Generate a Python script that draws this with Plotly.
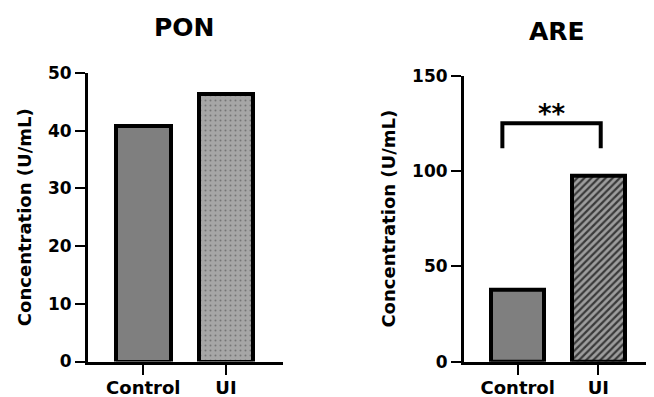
import plotly.graph_objects as go

categories = ["Control", "UI"]
pon_values = [40.8, 46.4]
are_values = [38.0, 97.5]
pon_ticks = [0, 10, 20, 30, 40, 50]
are_ticks = [0, 50, 100, 150]
titles = ["PON", "ARE"]
y_title = "Concentration (U/mL)"
sig_label = "**"
bracket_x = [-0.19, 1.03]
bracket_y = [112, 125]
star_y = 130

FONT = "DejaVu Sans"
# page body has an 8px margin; figure fills the rest of the 654x397 window
W, H, OFF = 646, 389, 8


def xf(px):
    return (px - OFF) / W


def yf(py):
    return 1 - (py - OFF) / H


fig = go.Figure()

fig.add_trace(go.Bar(
    x=categories, y=pon_values, width=0.66, xaxis="x", yaxis="y",
    marker=dict(color=["#7f7f7f", "#a6a6a6"],
                line=dict(color="black", width=4),
                pattern=dict(shape=["", "."], fgcolor="#1a1a1a", bgcolor="#a6a6a6",
                             size=5, solidity=0.12)),
    showlegend=False))

fig.add_trace(go.Bar(
    x=categories, y=are_values, width=0.66, xaxis="x2", yaxis="y2",
    marker=dict(color=["#7f7f7f", "#3a3a3a"],
                line=dict(color="black", width=4),
                pattern=dict(shape=["", "/"], fgcolor="#8c8c8c", bgcolor="#3a3a3a",
                             size=5, solidity=0.55)),
    showlegend=False))

axis_common = dict(showline=True, linecolor="black", linewidth=3, ticks="outside",
                   ticklen=10, tickwidth=2, tickcolor="black", showgrid=False,
                   zeroline=False, automargin=False)

fig.update_layout(
    width=W, height=H, margin=dict(l=0, r=0, t=0, b=0, autoexpand=False),
    plot_bgcolor="white", paper_bgcolor="white", bargap=0,
    font=dict(family=FONT, color="black"),
    xaxis=dict(domain=[xf(88), xf(282.7)], range=[-0.669, 1.686], anchor="y",
               tickfont=dict(size=18, family=FONT, weight="bold"), ticklabelstandoff=-2,
               **axis_common),
    yaxis=dict(domain=[yf(361.5), yf(73)], range=[0, 50], anchor="x", tickvals=pon_ticks,
               tickfont=dict(size=17, family=FONT, weight="bold"),
               title=dict(text=y_title, font=dict(size=18, family=FONT, weight="bold"), standoff=12),
               **axis_common),
    xaxis2=dict(domain=[xf(464), 1.0], range=[-0.666, 1.691], anchor="y2",
                tickfont=dict(size=18, family=FONT, weight="bold"), ticklabelstandoff=-2,
                **axis_common),
    yaxis2=dict(domain=[yf(361.7), yf(75.7)], range=[0, 150], anchor="x2", tickvals=are_ticks,
                tickfont=dict(size=17, family=FONT, weight="bold"),
                title=dict(text=y_title, font=dict(size=18, family=FONT, weight="bold"), standoff=12),
                **axis_common),
)

fig.add_annotation(text=titles[0], xref="paper", yref="paper", x=xf(184), y=yf(27),
                   showarrow=False, font=dict(size=25, family=FONT, weight="bold"),
                   xanchor="center", yanchor="middle")
fig.add_annotation(text=titles[1], xref="paper", yref="paper", x=xf(557), y=yf(32),
                   showarrow=False, font=dict(size=25, family=FONT, weight="bold"),
                   xanchor="center", yanchor="middle")

# significance bracket
fig.add_shape(type="path", xref="x2", yref="y2",
              path=f"M {bracket_x[0]} {bracket_y[0]} L {bracket_x[0]} {bracket_y[1]} "
                   f"L {bracket_x[1]} {bracket_y[1]} L {bracket_x[1]} {bracket_y[0]}",
              line=dict(color="black", width=4))
fig.add_annotation(text=sig_label, xref="x2", yref="y2", x=sum(bracket_x) / 2, y=star_y,
                   showarrow=False, font=dict(size=26, family=FONT, weight="bold"),
                   yanchor="middle")

fig.write_html("out.html")
